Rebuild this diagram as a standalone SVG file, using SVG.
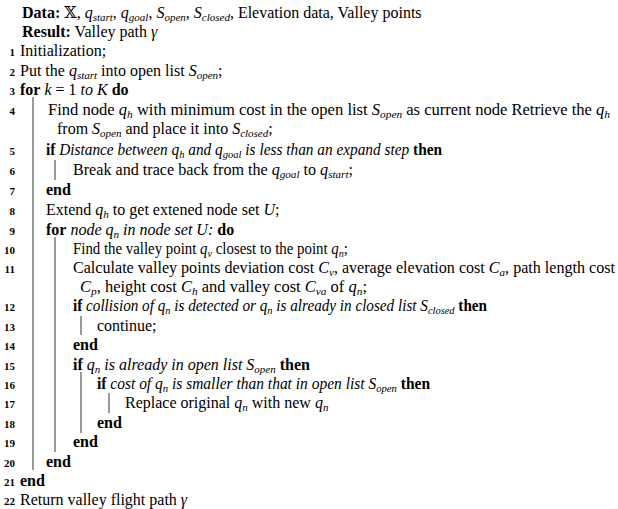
<svg xmlns="http://www.w3.org/2000/svg" width="618" height="509" viewBox="0 0 618 509">
<style>
text{font-family:"Liberation Serif","DejaVu Serif",serif;font-size:16px;fill:#000}
.n{font-size:11px;font-weight:bold;text-anchor:end}
.b{font-weight:bold}
.i{font-style:italic}
.s{font-size:11px;font-style:italic}
line{stroke:#555;stroke-width:1.2}
</style>
<rect width="618" height="509" fill="#fff"/>
<g id="bars">
<line x1="33" y1="97" x2="33" y2="470"/>
<line x1="55" y1="160" x2="55" y2="180"/>
<line x1="55" y1="237" x2="55" y2="452"/>
<line x1="81" y1="316" x2="81" y2="335"/>
<line x1="81" y1="372" x2="81" y2="433"/>
<line x1="109" y1="393" x2="109" y2="413"/>
</g>
<g id="nums">
<text class="n" x="15" y="56">1</text><text class="n" x="15" y="76">2</text><text class="n" x="15" y="95">3</text><text class="n" x="15" y="115">4</text><text class="n" x="15" y="155">5</text><text class="n" x="15" y="175">6</text><text class="n" x="15" y="195">7</text><text class="n" x="15" y="215">8</text><text class="n" x="15" y="235">9</text><text class="n" x="15" y="254">10</text><text class="n" x="15" y="273">11</text><text class="n" x="15" y="311">12</text><text class="n" x="15" y="331">13</text><text class="n" x="15" y="350">14</text><text class="n" x="15" y="370">15</text><text class="n" x="15" y="389">16</text><text class="n" x="15" y="408">17</text><text class="n" x="15" y="428">18</text><text class="n" x="15" y="447">19</text><text class="n" x="15" y="467">20</text><text class="n" x="15" y="486">21</text><text class="n" x="15" y="505">22</text>
</g>
<g id="lines">
<text x="22" y="18"><tspan class="b">Data:</tspan> 𝕏, <tspan class="i">q</tspan><tspan class="s" dy="2.5">start</tspan><tspan dy="-2.5">, </tspan><tspan class="i">q</tspan><tspan class="s" dy="2.5">goal</tspan><tspan dy="-2.5">, </tspan><tspan class="i">S</tspan><tspan class="s" dy="2.5">open</tspan><tspan dy="-2.5">, </tspan><tspan class="i">S</tspan><tspan class="s" dy="2.5">closed</tspan><tspan dy="-2.5">, Elevation data, Valley points</tspan></text>
<text x="22" y="37"><tspan class="b">Result:</tspan> Valley path <tspan class="i">γ</tspan></text>
<text x="20" y="56">Initialization;</text>
<text x="20" y="76">Put the <tspan class="i">q</tspan><tspan class="s" dy="2.5">start</tspan><tspan dy="-2.5"> into open list </tspan><tspan class="i">S</tspan><tspan class="s" dy="2.5">open</tspan><tspan dy="-2.5">;</tspan></text>
<text x="20" y="95"><tspan class="b">for</tspan> <tspan class="i">k</tspan> = 1 <tspan class="i">to K</tspan> <tspan class="b">do</tspan></text>
<text x="48" y="115" textLength="562" lengthAdjust="spacingAndGlyphs">Find node <tspan class="i">q</tspan><tspan class="s" dy="2.5">h</tspan><tspan dy="-2.5"> with minimum cost in the open list </tspan><tspan class="i">S</tspan><tspan class="s" dy="2.5">open</tspan><tspan dy="-2.5"> as current node Retrieve the </tspan><tspan class="i">q</tspan><tspan class="s" dy="2.5">h</tspan></text>
<text x="57" y="134">from <tspan class="i">S</tspan><tspan class="s" dy="2.5">open</tspan><tspan dy="-2.5"> and place it into </tspan><tspan class="i">S</tspan><tspan class="s" dy="2.5">closed</tspan><tspan dy="-2.5">;</tspan></text>
<text x="46" y="155" textLength="396" lengthAdjust="spacingAndGlyphs"><tspan class="b">if</tspan> <tspan class="i">Distance between q</tspan><tspan class="s" dy="2.5">h</tspan><tspan class="i" dy="-2.5"> and q</tspan><tspan class="s" dy="2.5">goal</tspan><tspan class="i" dy="-2.5"> is less than an expand step</tspan> <tspan class="b">then</tspan></text>
<text x="73" y="175" textLength="280" lengthAdjust="spacingAndGlyphs">Break and trace back from the <tspan class="i">q</tspan><tspan class="s" dy="2.5">goal</tspan><tspan dy="-2.5"> to </tspan><tspan class="i">q</tspan><tspan class="s" dy="2.5">start</tspan><tspan dy="-2.5">;</tspan></text>
<text x="46" y="195" class="b">end</text>
<text x="46" y="215">Extend <tspan class="i">q</tspan><tspan class="s" dy="2.5">h</tspan><tspan dy="-2.5"> to get extened node set </tspan><tspan class="i">U</tspan>;</text>
<text x="46" y="235"><tspan class="b">for</tspan> <tspan class="i">node q</tspan><tspan class="s" dy="2.5">n</tspan><tspan class="i" dy="-2.5"> in node set U:</tspan> <tspan class="b">do</tspan></text>
<text x="73" y="254" textLength="275" lengthAdjust="spacingAndGlyphs">Find the valley point <tspan class="i">q</tspan><tspan class="s" dy="2.5">v</tspan><tspan dy="-2.5"> closest to the point </tspan><tspan class="i">q</tspan><tspan class="s" dy="2.5">n</tspan><tspan dy="-2.5">;</tspan></text>
<text x="73" y="273" textLength="542" lengthAdjust="spacingAndGlyphs">Calculate valley points deviation cost <tspan class="i">C</tspan><tspan class="s" dy="2.5">v</tspan><tspan dy="-2.5">, average elevation cost </tspan><tspan class="i">C</tspan><tspan class="s" dy="2.5">a</tspan><tspan dy="-2.5">, path length cost</tspan></text>
<text x="80" y="292" textLength="287" lengthAdjust="spacingAndGlyphs"><tspan class="i">C</tspan><tspan class="s" dy="2.5">p</tspan><tspan dy="-2.5">, height cost </tspan><tspan class="i">C</tspan><tspan class="s" dy="2.5">h</tspan><tspan dy="-2.5"> and valley cost </tspan><tspan class="i">C</tspan><tspan class="s" dy="2.5">va</tspan><tspan dy="-2.5"> of </tspan><tspan class="i">q</tspan><tspan class="s" dy="2.5">n</tspan><tspan dy="-2.5">;</tspan></text>
<text x="73" y="311" textLength="414" lengthAdjust="spacingAndGlyphs"><tspan class="b">if</tspan> <tspan class="i">collision of q</tspan><tspan class="s" dy="2.5">n</tspan><tspan class="i" dy="-2.5"> is detected or q</tspan><tspan class="s" dy="2.5">n</tspan><tspan class="i" dy="-2.5"> is already in closed list S</tspan><tspan class="s" dy="2.5">closed</tspan><tspan dy="-2.5"> </tspan><tspan class="b">then</tspan></text>
<text x="97" y="331">continue;</text>
<text x="73" y="350" class="b">end</text>
<text x="73" y="370"><tspan class="b">if</tspan> <tspan class="i">q</tspan><tspan class="s" dy="2.5">n</tspan><tspan class="i" dy="-2.5"> is already in open list S</tspan><tspan class="s" dy="2.5">open</tspan><tspan dy="-2.5"> </tspan><tspan class="b">then</tspan></text>
<text x="97" y="389" textLength="333" lengthAdjust="spacingAndGlyphs"><tspan class="b">if</tspan> <tspan class="i">cost of q</tspan><tspan class="s" dy="2.5">n</tspan><tspan class="i" dy="-2.5"> is smaller than that in open list S</tspan><tspan class="s" dy="2.5">open</tspan><tspan dy="-2.5"> </tspan><tspan class="b">then</tspan></text>
<text x="125" y="408">Replace original <tspan class="i">q</tspan><tspan class="s" dy="2.5">n</tspan><tspan dy="-2.5"> with new </tspan><tspan class="i">q</tspan><tspan class="s" dy="2.5">n</tspan></text>
<text x="97" y="428" class="b">end</text>
<text x="73" y="447" class="b">end</text>
<text x="46" y="467" class="b">end</text>
<text x="20" y="486" class="b">end</text>
<text x="20" y="505">Return valley flight path <tspan class="i">γ</tspan></text>
</g>
</svg>
